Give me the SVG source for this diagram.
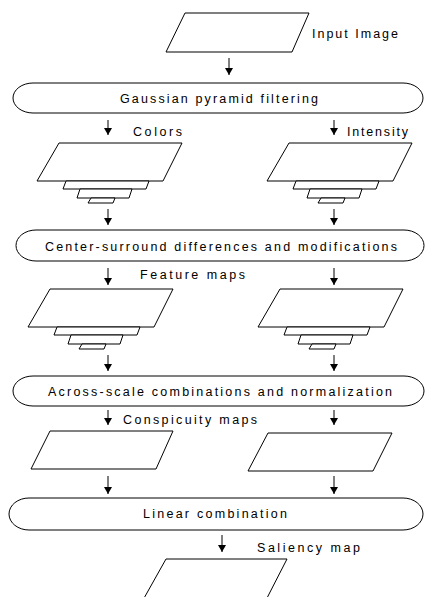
<svg xmlns="http://www.w3.org/2000/svg" width="425" height="597" viewBox="0 0 425 597">
<defs>
<style>
.s{fill:#fff;stroke:#000;stroke-width:1}
.t{font-family:"Liberation Sans",Arial,sans-serif;font-size:12.5px;fill:#000}
.c{stroke:#000;stroke-width:1;fill:none}
</style>
<marker id="a" viewBox="0 0 8 7" refX="4" refY="7" markerWidth="8" markerHeight="7" markerUnits="userSpaceOnUse" orient="0">
<path d="M0,0 L8,0 L4,7 Z" fill="#000"/>
</marker>
<g id="stack">
<polygon class="s" points="59,143 182,143 163,181 37,181"/>
<polygon class="s" points="66,181 149,181 146,189 63,189"/>
<polygon class="s" points="80,189 132,189 129,198 77,198"/>
<polygon class="s" points="91,198 115,198 113,203 88,203"/>
</g>
</defs>

<g id="connectors">
<line class="c" x1="229" y1="58" x2="229" y2="75" marker-end="url(#a)"/>
<line class="c" x1="108" y1="120" x2="108" y2="135" marker-end="url(#a)"/>
<line class="c" x1="334" y1="120" x2="334" y2="135" marker-end="url(#a)"/>
<line class="c" x1="108" y1="209" x2="108" y2="225" marker-end="url(#a)"/>
<line class="c" x1="334" y1="209" x2="334" y2="225" marker-end="url(#a)"/>
<line class="c" x1="108" y1="268" x2="108" y2="285" marker-end="url(#a)"/>
<line class="c" x1="334" y1="268" x2="334" y2="285" marker-end="url(#a)"/>
<line class="c" x1="108" y1="355" x2="108" y2="371" marker-end="url(#a)"/>
<line class="c" x1="334" y1="355" x2="334" y2="371" marker-end="url(#a)"/>
<line class="c" x1="108" y1="410" x2="108" y2="425" marker-end="url(#a)"/>
<line class="c" x1="334" y1="410" x2="334" y2="425" marker-end="url(#a)"/>
<line class="c" x1="108" y1="476" x2="108" y2="494" marker-end="url(#a)"/>
<line class="c" x1="334" y1="476" x2="334" y2="494" marker-end="url(#a)"/>
<line class="c" x1="222" y1="535" x2="222" y2="552" marker-end="url(#a)"/>
</g>

<g id="input-image">
<polygon class="s" points="185,13 309,13 292,52 166,52"/>
<text class="t" x="312" y="38" textLength="86" lengthAdjust="spacing">Input Image</text>
</g>

<g id="gaussian">
<path class="s" d="M33,83 H403 A20,15 0 0 1 403,113 H33 A20,15 0 0 1 33,83 Z"/>
<text class="t" x="120" y="103" textLength="198" lengthAdjust="spacing">Gaussian pyramid filtering</text>
</g>

<g id="colors-label"><text class="t" x="133" y="136" textLength="49" lengthAdjust="spacing">Colors</text></g>
<g id="intensity-label"><text class="t" x="347" y="136" textLength="61" lengthAdjust="spacing">Intensity</text></g>

<g id="colors-pyramid"><use href="#stack"/></g>
<g id="intensity-pyramid"><use href="#stack" transform="translate(230,0)"/></g>

<g id="center-surround">
<path class="s" d="M36,230 H404 A20,15.5 0 0 1 404,261 H36 A20,15.5 0 0 1 36,230 Z"/>
<text class="t" x="45" y="251" textLength="352" lengthAdjust="spacing">Center-surround differences and modifications</text>
</g>

<g id="feature-label"><text class="t" x="140" y="279" textLength="105" lengthAdjust="spacing">Feature maps</text></g>

<g id="feature-colors"><use href="#stack" transform="translate(-9,146)"/></g>
<g id="feature-intensity"><use href="#stack" transform="translate(221,146)"/></g>

<g id="across-scale">
<path class="s" d="M33,376 H404 A20,15 0 0 1 404,406 H33 A20,15 0 0 1 33,376 Z"/>
<text class="t" x="48" y="396" textLength="344" lengthAdjust="spacing">Across-scale combinations and normalization</text>
</g>

<g id="conspicuity-label"><text class="t" x="123" y="424" textLength="134" lengthAdjust="spacing">Conspicuity maps</text></g>

<g id="conspicuity-colors"><polygon class="s" points="50,431 173,431 156,469 31,469"/></g>
<g id="conspicuity-intensity"><polygon class="s" points="268,433 392,433 373,471 248,471"/></g>

<g id="linear">
<path class="s" d="M29,498 H403 A20,16 0 0 1 403,530 H29 A20,16 0 0 1 29,498 Z"/>
<text class="t" x="143" y="518" textLength="144" lengthAdjust="spacing">Linear combination</text>
</g>

<g id="saliency-label"><text class="t" x="257" y="552" textLength="103" lengthAdjust="spacing">Saliency map</text></g>

<g id="saliency-map"><polygon class="s" points="166,559 287,559 266,600 143,600"/></g>
</svg>
